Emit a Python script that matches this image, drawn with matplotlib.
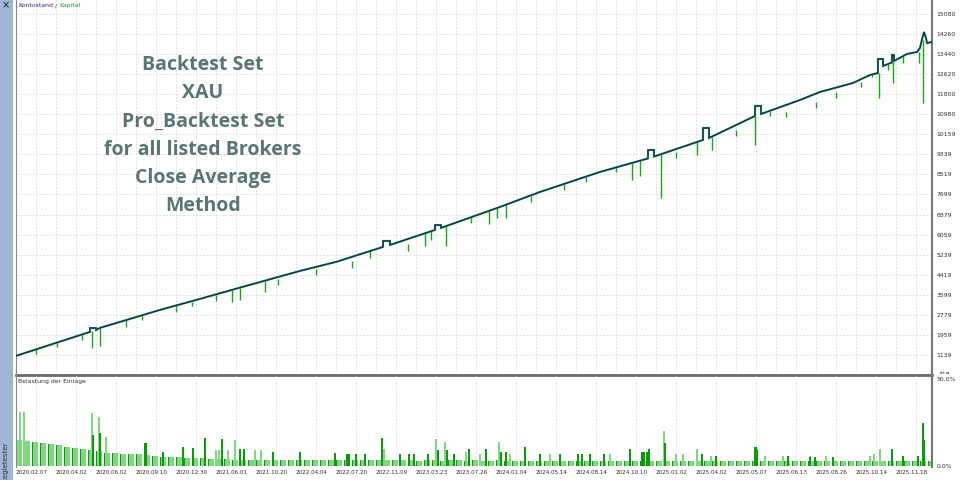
import numpy as np
import matplotlib
matplotlib.use("Agg")
import matplotlib.pyplot as plt
from matplotlib.patches import Rectangle
from matplotlib.transforms import Bbox, TransformedBbox, blended_transform_factory, offset_copy

# ---------------- data ----------------
# x = deal index (chart runs from 0 to 916)
date_labels = ["2020.02.07", "2020.04.02", "2020.06.02", "2020.09.10", "2020.12.30",
               "2021.06.01", "2021.10.20", "2022.04.04", "2022.07.20", "2022.11.09",
               "2023.03.23", "2023.07.26", "2024.01.04", "2024.05.14", "2024.08.14",
               "2024.10.10", "2025.01.02", "2025.04.02", "2025.05.07", "2025.06.13",
               "2025.08.26", "2025.10.14", "2025.11.18"]
date_pos = [0, 40, 80, 120, 160, 200, 240, 280, 320, 360, 400, 440, 480, 520, 560,
            600, 640, 680, 720, 760, 800, 840, 880]

y_tick_vals = [1139, 1959, 2779, 3599, 4419, 5239, 6059, 6879, 7699, 8519, 9339,
               10159, 10980, 11800, 12620, 13440, 14260, 15080]

# Balance (Kontostand)
bal_x = [0, 60, 74, 74, 80, 80, 84, 144, 184, 230, 284, 320, 367, 367, 374, 374,
         419, 419, 425, 425, 484, 524, 584, 632, 632, 638, 638, 687, 687, 693, 693,
         739, 739, 745, 745, 784, 804, 837, 854, 862, 862, 867, 867, 876, 876, 878,
         878, 891, 901, 904, 906, 908, 910, 911, 916]
bal_y = [1100, 1896, 2080, 2240, 2240, 2160, 2244, 2980, 3430, 3960, 4574, 4942,
         5555, 5800, 5800, 5637, 6250, 6450, 6450, 6332, 7190, 7803, 8621, 9173,
         9520, 9520, 9250, 9929, 10420, 10420, 10010, 10910, 11319, 11319, 10990,
         11564, 11891, 12259, 12586, 12668, 13240, 13240, 12954, 13097, 13404,
         13404, 13159, 13445, 13527, 13690, 14050, 14344, 14100, 13894, 13935]

# Equity (Kapital) drawdown spikes: position, value at top, lowest value
eq_spike_x = [76, 84, 216, 224, 249, 354, 409, 415, 430, 473, 481, 490, 616, 624,
              645, 681, 696, 739, 754, 856, 863, 872, 877, 887, 903, 907,
              20, 41, 66, 110, 126, 160, 176, 200, 262, 300, 336, 392, 455, 515,
              548, 570, 600, 660, 720, 770, 800, 820, 845]
eq_spike_top = [2100, 2244, 3800, 3890, 4176, 5386, 6113, 6195, 6405, 7030, 7150,
                7280, 8999, 9095, 9347, 9850, 10060, 10910, 11100, 12610, 12668,
                13040, 13100, 13400, 13527, 14000,
                1370, 1640, 1960, 2560, 2760, 3160, 3320, 3590, 4230, 4640, 4960,
                5690, 6790, 7640, 8130, 8430, 8850, 9420, 10350, 11070, 11490, 11891, 12310]
eq_spike_low = [1426, 1508, 3307, 3388, 3715, 5105, 5596, 5841, 5596, 6495, 6740,
                6740, 8294, 8458, 7558, 9316, 9520, 9725, 10900, 12505, 11646,
                12791, 12259, 13077, 13077, 11442,
                1180, 1450, 1760, 2300, 2560, 2900, 3120, 3330, 3990, 4400, 4700,
                5400, 6550, 7380, 7900, 8200, 8600, 9200, 10100, 10850, 11250, 11650, 12100]

# Deposit load (Belastung der Einlage), % -- base band
load_base_x = list(range(0, 916, 8))
load_base = [14.8, 14.5, 14.0, 13.2, 12.5, 12.0, 11.2, 10.5, 10.0, 9.2, 8.6, 7.8,
             7.5, 7.2, 7.0, 6.8, 6.5, 6.0, 5.5, 5.2, 5.0, 4.8, 4.6, 4.4, 4.2,
             4.0, 3.9, 3.8, 3.7, 3.6, 3.5, 3.5, 3.6, 3.5, 3.4, 3.5, 3.6, 3.4,
             3.5, 3.3, 3.5, 3.6, 3.4, 3.3, 3.5, 3.4, 3.3, 3.5, 3.4, 3.3, 3.2,
             3.4, 3.3, 3.2, 3.4, 3.3, 3.2, 3.3, 3.1, 3.2, 3.3, 3.1, 3.2, 3.0,
             3.2, 3.1, 3.0, 3.2, 3.1, 3.0, 3.1, 3.0, 3.2, 3.0, 2.9, 3.1, 3.0,
             2.9, 3.0, 3.1, 2.9, 3.0, 2.9, 3.0, 2.8, 3.0, 2.9, 2.8, 3.0, 2.9,
             2.8, 2.9, 3.0, 2.8, 2.9, 2.8, 2.9, 2.7, 2.9, 2.8, 2.7, 2.9, 2.8,
             2.7, 2.8, 2.9, 2.7, 2.8, 2.7, 2.8, 2.9, 2.7, 2.8, 2.9, 2.8]
# light spikes
load_light_x = [4, 8, 76, 83, 90, 200, 203, 212, 219, 239, 245, 368, 420, 429, 450,
                464, 483, 494, 534, 594, 648, 660, 667, 681, 695, 749, 767, 794,
                810, 854, 864, 858]
load_light = [31, 31, 30.5, 28, 17, 9, 9, 9.5, 15, 9, 9, 10, 15.5, 14, 8, 7, 14, 7,
              7, 7, 20, 7, 7, 10, 6, 6, 6, 6, 6, 6, 10, 7]
# dark spikes
load_dark_x = [77, 84, 129, 130, 147, 167, 177, 189, 206, 224, 228, 257, 284, 319,
               331, 333, 340, 349, 366, 384, 393, 398, 412, 422, 431, 438, 453,
               470, 485, 490, 509, 524, 544, 562, 566, 574, 588, 614, 626, 628,
               631, 633, 649, 686, 700, 739, 740, 741, 772, 794, 799, 817, 876,
               887, 902, 907, 908]
load_dark = [18, 19, 13, 13, 8, 11, 10.5, 16, 15.5, 10, 10, 8, 8, 7.5, 7, 7, 7, 7,
             16, 7, 7, 7, 7, 9, 9, 7, 10, 10, 8, 8, 11, 7, 7, 7, 7, 7, 7, 10, 8,
             8, 8, 10, 13, 7, 6, 11, 11, 10, 6, 5, 5, 5, 10, 6, 6, 25, 15]

# ---------------- styling ----------------
W, H = 960, 480
plt.rcParams['font.family'] = ['DejaVu Sans']
small = 4.4
grid_col = '#d6d6d6'
bal_col = '#1b1b8a'
eq_col = '#14a814'
light_col = '#80d980'
dark_col = '#0b9b0b'

fig = plt.figure(figsize=(9.6, 4.8), dpi=100)
fig.patch.set_facecolor('white')

def fr(x0, y0, x1, y1):
    return [x0 / W, 1 - y1 / H, (x1 - x0) / W, (y1 - y0) / H]

# left tool strip
fig.patches.append(Rectangle((0, 0), 12.5 / W, 1, transform=fig.transFigure,
                             facecolor='#9fb6d7', edgecolor='none', zorder=0))
fig.text(6 / W, 1 - 5.5 / H, '\u00d7', ha='center', va='center', fontsize=7,
         color='#202020')
fig.text(6 / W, 1 - 442 / H, 'Strategietester', rotation=90, ha='center',
         va='top', fontsize=5.0, color='#303030')

# ---------------- main panel ----------------
ax = fig.add_axes(fr(16, 0, 932, 375))
ax.set_xlim(0, 916)
ax.set_ylim(318, 15652)
ax.set_xticks(np.arange(0, 917, 20), minor=True)
ax.set_xticks([])
ax.set_yticks(y_tick_vals)
ax.yaxis.tick_right()
ax.tick_params(axis='y', length=0, pad=3.2, labelsize=small, labelcolor='#303030')
ax.grid(which='minor', axis='x', color=grid_col, linestyle=(0, (2, 2)), lw=0.6)
ax.grid(which='major', axis='y', color=grid_col, linestyle=(0, (2, 2)), lw=0.6)
ax.tick_params(axis='x', which='both', length=0)
ax.spines['top'].set_visible(False)
ax.spines['left'].set_color('#8a8a8a'); ax.spines['left'].set_linewidth(0.8)
ax.spines['right'].set_color('#777777'); ax.spines['right'].set_linewidth(1.5)
ax.spines['bottom'].set_color('#6c6c6c'); ax.spines['bottom'].set_linewidth(2.0)

# clipped "318" label
t318 = ax.text(1.0, 318, '318', ha='left', va='center', fontsize=small, color='#303030',
               transform=offset_copy(blended_transform_factory(ax.transAxes, ax.transData),
                                     fig=fig, x=4.5, y=0, units='points'))
t318.set_clip_box(TransformedBbox(Bbox.from_extents(0, 1 - 374 / H, 1, 1), fig.transFigure))
t318.set_clip_on(True)

# equity spikes and curves
ax.vlines(eq_spike_x, eq_spike_low, eq_spike_top, color=eq_col, lw=1.0, zorder=3)
ax.plot(bal_x, bal_y, color=eq_col, lw=1.5, zorder=3, solid_joinstyle='miter')
ax.plot(bal_x, bal_y, color=bal_col, lw=0.85, zorder=4, solid_joinstyle='miter')

# legend text
t1 = ax.text(2 / 916, 1 - 5.5 / 375, 'Kontostand', transform=ax.transAxes,
             fontsize=small, color='#2a2a8a', ha='left', va='center')
t2 = ax.annotate(' / ', xy=(1, 0.5), xycoords=t1, ha='left', va='center',
                 fontsize=small, color='#555555')
t3 = ax.annotate('Kapital', xy=(1, 0.5), xycoords=t2, ha='left', va='center',
                 fontsize=small, color='#22aa22')

# overlay title
fig.text(203 / W, 1 - 135.5 / H,
         "Backtest Set\nXAU\nPro_Backtest Set\nfor all listed Brokers\nClose Average\nMethod",
         ha='center', va='center', multialignment='center', fontsize=14,
         fontweight='bold', family=['Open Sans', 'DejaVu Sans'], color='#5a7673',
         linespacing=1.535, zorder=10)

# ---------------- load panel ----------------
ax2 = fig.add_axes(fr(16, 374, 932, 467))
ax2.set_xlim(0, 916)
ax2.set_ylim(-0.5, 52.9)
ax2.set_xticks(np.arange(0, 917, 20), minor=True)
ax2.set_xticks(date_pos)
ax2.set_xticklabels(date_labels, ha='left')
ax2.tick_params(axis='x', which='both', length=0, pad=1.8, labelsize=4.1,
                labelcolor='#303030')
ax2.set_yticks([0, 50])
ax2.set_yticklabels(['0.0%', '50.0%'])
ax2.yaxis.tick_right()
ax2.tick_params(axis='y', length=0, pad=3.2, labelsize=small, labelcolor='#303030')
ax2.grid(which='minor', axis='x', color=grid_col, linestyle=(0, (2, 2)), lw=0.6)
ax2.spines['top'].set_visible(False)
ax2.spines['bottom'].set_visible(False)
ax2.spines['left'].set_color('#8a8a8a'); ax2.spines['left'].set_linewidth(0.8)
ax2.spines['right'].set_color('#777777'); ax2.spines['right'].set_linewidth(1.5)
ax2.patch.set_alpha(0)

ax2.bar(load_base_x, load_base, width=6.0, align='edge', color=light_col,
        edgecolor='none', zorder=2)
ax2.bar(load_base_x, load_base, width=1.4, align='edge', color=dark_col,
        edgecolor='none', zorder=2)
ax2.bar(load_light_x, load_light, width=2.2, color=light_col, edgecolor='none', zorder=3)
ax2.bar(load_dark_x, load_dark, width=1.4, color=dark_col, edgecolor='none', zorder=4)

ax2.text(2 / 916, 1 - 7 / 93, 'Belastung der Einlage', transform=ax2.transAxes,
         fontsize=small, color='#333333', ha='left', va='center')

fig.savefig('out.png', dpi=100, facecolor='white')
